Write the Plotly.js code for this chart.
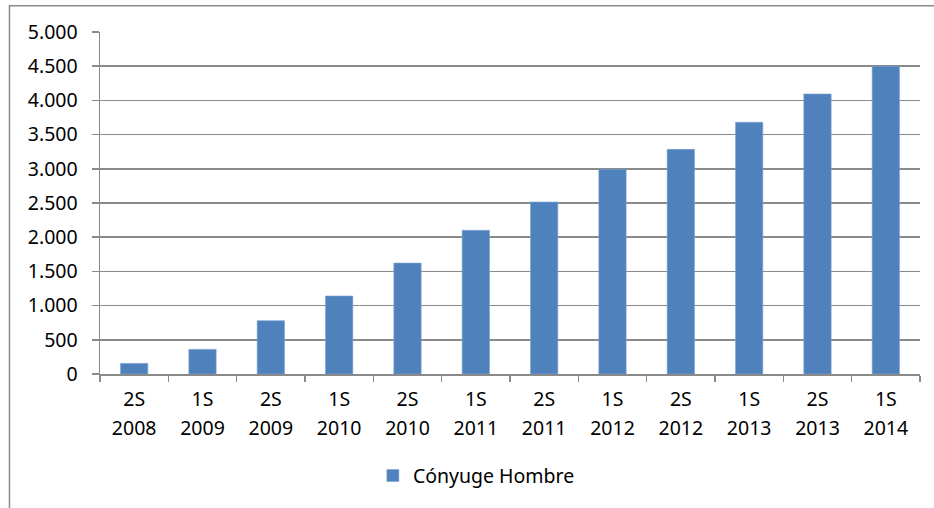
<!DOCTYPE html>
<html>
<head>
<meta charset="utf-8">
<script src="https://cdn.plot.ly/plotly-3.0.1.min.js"></script>
<style>html,body{margin:0;padding:0;background:#fff;}</style>
</head>
<body>
<div id="chart" style="width:934px;height:508px;"></div>
<script>
const halves = ['2S','1S','2S','1S','2S','1S','2S','1S','2S','1S','2S','1S'];
const years = ['2008','2009','2009','2010','2010','2011','2011','2012','2012','2013','2013','2014'];
const values = [155, 360, 780, 1140, 1622, 2100, 2515, 2992, 3284, 3680, 4094, 4498];
const seriesName = 'Cónyuge Hombre';

const categories = halves.map((h, i) => h + ' ' + years[i]);
const FONT = 'Noto Sans, Liberation Sans, sans-serif';
const FS = 19.5;
const GRID = '#8a8a8a';

const traces = [
  {
    type: 'bar', x: categories, y: values, name: seriesName,
    marker: {color: '#4F81BD', line: {color: '#7ea3d0', width: 0.6}},
    hoverinfo: 'x+y'
  },
  {
    type: 'scatter', mode: 'none', x: categories, y: values, xaxis: 'x2',
    showlegend: false, hoverinfo: 'skip'
  }
];

const layout = {
  width: 934, height: 508,
  margin: {l: 100, r: 14, t: 32, b: 134},
  paper_bgcolor: '#fff', plot_bgcolor: '#fff',
  separators: ',.',
  font: {family: FONT, size: FS, color: '#000'},
  bargap: 0.6,
  showlegend: true,
  xaxis: {
    type: 'category', range: [-0.5, 11.5],
    tickmode: 'array', tickvals: categories, ticktext: halves,
    tickson: 'boundaries', ticks: 'outside', ticklen: 6, tickwidth: 1.5, tickcolor: GRID,
    showline: true, linecolor: GRID, linewidth: 1.5,
    showgrid: false, zeroline: false,
    tickfont: {family: FONT, size: FS, color: '#000'},
    ticklabelstandoff: 7,
    fixedrange: true
  },
  xaxis2: {
    type: 'category', overlaying: 'x', anchor: 'y', side: 'bottom', range: [-0.5, 11.5],
    tickmode: 'array', tickvals: categories, ticktext: years,
    ticks: '', showline: false, showgrid: false, zeroline: false,
    tickfont: {family: FONT, size: FS, color: '#000'},
    ticklabelstandoff: 40,
    fixedrange: true
  },
  yaxis: {
    range: [0, 5000], dtick: 500, tick0: 0, tickformat: ',d',
    showgrid: true, gridcolor: GRID, gridwidth: 1.5,
    showline: true, linecolor: GRID, linewidth: 1.5,
    ticks: 'outside', ticklen: 7, tickwidth: 1.5, tickcolor: GRID,
    zeroline: false,
    tickfont: {family: FONT, size: FS, color: '#000'},
    ticklabelstandoff: 10,
    fixedrange: true
  },
  legend: {
    orientation: 'h', x: 0.459, xanchor: 'center', y: -0.298, yanchor: 'middle',
    font: {family: FONT, size: FS, color: '#000'},
    bgcolor: 'rgba(0,0,0,0)'
  },
  shapes: [{
    type: 'rect', xref: 'paper', yref: 'paper',
    x0: -0.1104, x1: 1.03, y0: -0.45, y1: 1.077,
    line: {color: '#8c8c8c', width: 1.5}, fillcolor: 'rgba(0,0,0,0)', layer: 'below'
  }]
};

Plotly.newPlot('chart', traces, layout, {displayModeBar: false, staticPlot: true});
</script>
</body>
</html>
